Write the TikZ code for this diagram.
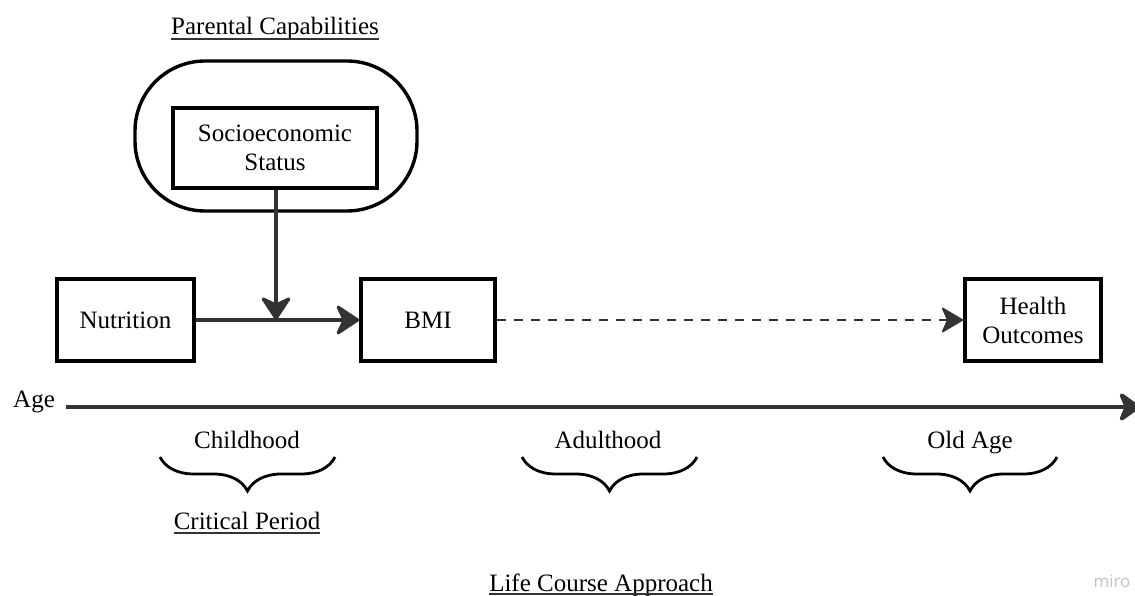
\documentclass[tikz,border=0pt]{standalone}
\usepackage{fontspec}
\setmainfont{Liberation Serif}
\newfontfamily\logofont{Open Sans}
\usetikzlibrary{arrows.meta,decorations.pathreplacing}
\definecolor{ink}{HTML}{333333}
\definecolor{logogray}{HTML}{C4C4CC}
\tikzset{
  txt/.style={font=\fontsize{25}{29}\selectfont, text=black},
  boxnode/.style={draw=black, line width=3.6pt, txt, align=center, inner sep=0pt},
  lbl/.style={txt, inner sep=0pt},
  ulline/.style={line width=1.3pt, draw=ink},
  conn/.style={draw=ink, line width=3.2pt, -{Stealth[length=26pt,width=34pt,inset=8pt,round]}},
  dashconn/.style={draw=ink, line width=1.6pt, dash pattern=on 9pt off 8pt, -{Stealth[length=23pt,width=27pt,inset=6pt,round]}},
  agestyle/.style={draw=ink, line width=4pt, -{Stealth[length=24pt,width=34pt,inset=7pt,round]}},
  bracestyle/.style={draw=black, line width=2.8pt, decorate, decoration={brace, amplitude=34pt}},
}
\begin{document}
\begin{tikzpicture}[x=1pt, y=-1pt]
\useasboundingbox[fill=white] (0,0) rectangle (1135,596);

% Parental capabilities
\node[lbl, anchor=base] (pc) at (275,35) {Parental Capabilities};
\draw[ulline] ([yshift=-4pt]pc.base west) -- ([yshift=-4pt]pc.base east);

\node[draw=black, line width=3.4pt, rounded corners=70pt, minimum width=282pt, minimum height=150pt] (outer) at (276,136) {};
\node[boxnode, minimum width=204pt, minimum height=80pt] (ses) at (275,148) {Socioeconomic\\Status};

% Main row
\node[boxnode, minimum width=137pt, minimum height=82pt] (nut) at (125.5,320) {Nutrition};
\node[boxnode, minimum width=134pt, minimum height=82pt] (bmi) at (428,320) {BMI};
\node[boxnode, minimum width=136pt, minimum height=82pt] (health) at (1033,320) {Health\\Outcomes};

\coordinate (join) at (276,320);
\draw[conn] (nut.east) -- (bmi.west);
\draw[conn] (ses.south -| join) -- (join);
\draw[dashconn] (bmi.east) -- (health.west);

% Age axis
\node[lbl, anchor=base west] (age) at (13,407) {Age};
\coordinate (a0) at (66,407);
\coordinate (a1) at (1140,407);
\draw[agestyle] (a0) -- (a1);

% Periods
\node[lbl, anchor=base] (child) at (247,448) {Childhood};
\node[lbl, anchor=base] (adult) at (608,448) {Adulthood};
\node[lbl, anchor=base] (old) at (970,448) {Old Age};

\coordinate (b1r) at (335,457); \coordinate (b1l) at (160,457);
\coordinate (b2r) at (697,457); \coordinate (b2l) at (522,457);
\coordinate (b3r) at (1057,457); \coordinate (b3l) at (883,457);
\draw[bracestyle] (b1r) -- (b1l);
\draw[bracestyle] (b2r) -- (b2l);
\draw[bracestyle] (b3r) -- (b3l);

\node[lbl, anchor=base] (crit) at (247,529) {Critical Period};
\draw[ulline] ([yshift=-4pt]crit.base west) -- ([yshift=-4pt]crit.base east);

\node[lbl, anchor=base east] (lca) at (713,591) {Life Course Approach};
\draw[ulline] ([yshift=-3pt]lca.base west) -- ([yshift=-3pt]lca.base east);

\node[anchor=base, inner sep=0pt, font=\logofont\fontsize{17}{19}\selectfont, text=logogray] (miro) at (1112,587) {miro};
\end{tikzpicture}
\end{document}
